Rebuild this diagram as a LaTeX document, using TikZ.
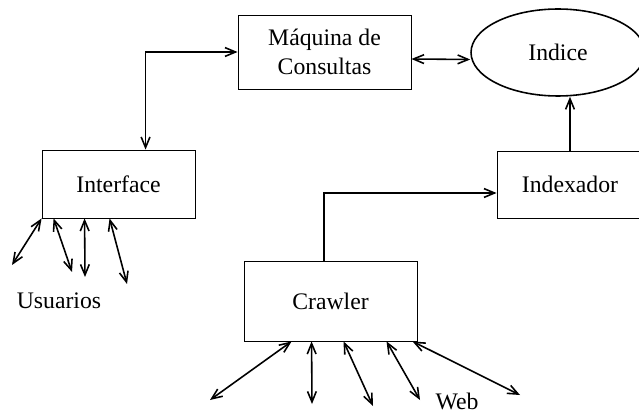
\documentclass[tikz,border=0pt]{standalone}
\usepackage{fontspec}
\setmainfont{Liberation Serif}
\usetikzlibrary{arrows.meta,shapes.geometric}

\tikzset{
  box/.style={draw,line width=0.5pt,rectangle,inner sep=0pt},
  conn/.style={line width=0.9pt,{Straight Barb[length=6pt,width=5pt]}-{Straight Barb[length=6pt,width=5pt]}},
  conn1/.style={line width=0.9pt,-{Straight Barb[length=6pt,width=5pt]}}
}

\begin{document}
\begin{tikzpicture}[x=0.02cm,y=-0.02cm,font=\fontsize{13.5}{16.5}\selectfont]
        \useasboundingbox (0,0) rectangle (639,415);
        \clip (0,0) rectangle (639,415);

        \node[box,minimum width=3.46cm,minimum height=1.48cm,align=center] (maq) at (324.5,52) {M\'aquina de\\Consultas};
        \node[draw,ellipse,line width=0.9pt,minimum width=3.48cm,minimum height=1.74cm] (ind) at (558,52.5) {Indice};
        \node[box,minimum width=3.06cm,minimum height=1.36cm] (inter) at (118.5,184) {Interface};
        \node[box,minimum width=2.92cm,minimum height=1.34cm] (idx) at (570,184.5) {Indexador};
        \node[box,minimum width=3.46cm,minimum height=1.6cm] (crawl) at (330.5,301) {Crawler};

        \node[anchor=base] (usu) at (59,309) {Usuarios};
        \node[anchor=base] (web) at (457,409) {Web};

        \draw[conn] (maq.west) -| ([xshift=2.08cm]inter.north west);
        \draw[conn] ([yshift=-0.14cm]maq.east) -- ([yshift=-0.14cm]ind.west);
        \draw[conn1] (idx.north) -- (idx.north |- ind.south);
        \draw[conn1] ([xshift=-0.13cm]crawl.north) |- ([yshift=-0.17cm]idx.west);

        % Usuarios
        \foreach \i/\s/\x/\y in {1/0/12/265,2/0.24/72/272,3/0.86/85/277,4/1.36/127/284}{
          \coordinate (u\i) at (\x,\y);
          \draw[conn] ([xshift=\s cm]inter.south west) -- (u\i);
        }

        % Web
        \foreach \i/\s/\x/\y in {1/0.96/210/400,2/1.36/312/404,3/2.0/373/406,4/2.86/420/400,5/3.38/520/395}{
          \coordinate (w\i) at (\x,\y);
          \draw[conn] ([xshift=\s cm]crawl.south west) -- (w\i);
        }
\end{tikzpicture}
\end{document}
